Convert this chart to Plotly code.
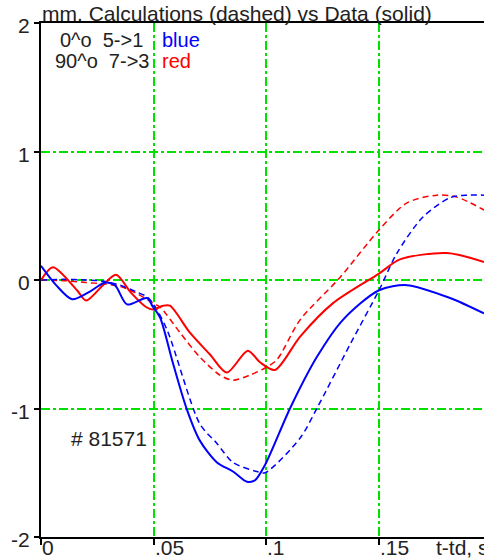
import plotly.graph_objects as go

# ---- data ----
blue_data_t = [0.0, 0.0067, 0.0138, 0.0217, 0.0284, 0.0328, 0.0382, 0.0470, 0.0497, 0.0528,
               0.0586, 0.0648, 0.0705, 0.0781, 0.0852, 0.0914, 0.0949, 0.0994, 0.1105, 0.1224,
               0.1340, 0.1500, 0.1624, 0.1815, 0.1966]
blue_data_y = [0.11, -0.04, -0.15, -0.09, -0.02, -0.04, -0.19, -0.14, -0.21, -0.29,
               -0.65, -1.01, -1.25, -1.42, -1.49, -1.57, -1.56, -1.44, -1.00, -0.60,
               -0.31, -0.08, -0.04, -0.14, -0.26]

blue_calc_t = [0.0, 0.010, 0.020, 0.028, 0.035, 0.042, 0.047, 0.050, 0.056, 0.0705,
               0.078, 0.0852, 0.0958, 0.0994, 0.115, 0.1224, 0.1375, 0.150, 0.158, 0.1695,
               0.1815, 0.189, 0.1966]
blue_calc_y = [0.0, 0.005, 0.0, -0.01, -0.04, -0.09, -0.13, -0.19, -0.39, -1.12,
               -1.27, -1.42, -1.49, -1.50, -1.23, -1.00, -0.49, -0.08, 0.21, 0.49,
               0.64, 0.66, 0.66]

red_data_t = [0.0, 0.0053, 0.0160, 0.0200, 0.0275, 0.0333, 0.0400, 0.0466, 0.0497, 0.0542,
              0.0572, 0.0661, 0.0750, 0.0825, 0.0918, 0.0972, 0.1038, 0.1150, 0.1296, 0.1500,
              0.1593, 0.1801, 0.1966]
red_data_y = [0.0, 0.10, -0.08, -0.16, -0.04, 0.04, -0.10, -0.21, -0.23, -0.20,
              -0.20, -0.41, -0.58, -0.72, -0.55, -0.64, -0.70, -0.44, -0.18, 0.05,
              0.16, 0.21, 0.14]

red_calc_t = [0.0, 0.010, 0.020, 0.028, 0.035, 0.042, 0.0497, 0.0528, 0.0617, 0.0705,
              0.0794, 0.0852, 0.0927, 0.0994, 0.1047, 0.1150, 0.1327, 0.1500, 0.1624, 0.1757,
              0.1846, 0.1966]
red_calc_y = [0.0, -0.005, -0.02, -0.03, -0.05, -0.10, -0.18, -0.21, -0.41, -0.60,
              -0.74, -0.78, -0.74, -0.685, -0.62, -0.31, 0.02, 0.39, 0.60, 0.66,
              0.645, 0.545]

x_ticks = [0.0, 0.05, 0.1, 0.15]
x_tick_labels = ["0", ".05", ".1", ".15"]
y_ticks = [-2, -1, 0, 1, 2]
y_tick_labels = ["-2", "-1", "0", "1", "2"]

FONT = "Liberation Sans, Arial, sans-serif"
FS = 21
LFS = 20
BLUE = "#0000ff"
RED = "#ff0000"
GREEN = "rgb(0,225,0)"

fig = go.Figure()
fig.add_trace(go.Scatter(x=red_calc_t, y=red_calc_y, mode="lines",
                         line=dict(color=RED, width=1.5, dash="6px,4px", shape="spline", smoothing=0.8)))
fig.add_trace(go.Scatter(x=blue_calc_t, y=blue_calc_y, mode="lines",
                         line=dict(color=BLUE, width=1.5, dash="6px,4px", shape="spline", smoothing=0.8)))
fig.add_trace(go.Scatter(x=red_data_t, y=red_data_y, mode="lines",
                         line=dict(color=RED, width=2, shape="spline", smoothing=0.8)))
fig.add_trace(go.Scatter(x=blue_data_t, y=blue_data_y, mode="lines",
                         line=dict(color=BLUE, width=2, shape="spline", smoothing=0.8)))

annotations = []
for v, t in zip(x_ticks, x_tick_labels):
    annotations.append(dict(x=v, y=0, xref="x", yref="paper", text=t, showarrow=False,
                            xanchor="left", yanchor="top", xshift=-1, yshift=3,
                            font=dict(family=FONT, size=FS, color="#222")))
annotations += [
    dict(x=0.1745, y=0, xref="x", yref="paper", text="t-td, s", showarrow=False,
         xanchor="left", yanchor="top", yshift=3, font=dict(family=FONT, size=FS, color="#222")),
    dict(x=0, y=1, xref="paper", yref="paper", text="mm. Calculations (dashed) vs Data (solid)",
         showarrow=False, xanchor="left", yanchor="bottom", xshift=-1, yshift=-4,
         font=dict(family=FONT, size=FS, color="#222")),
    dict(x=0.0462, y=1.0, xref="x", yref="paper", text="0^o  5->1", showarrow=False,
         xanchor="right", yanchor="middle", yshift=-17, font=dict(family=FONT, size=LFS, color="#222")),
    dict(x=0.0490, y=1.0, xref="x", yref="paper", text="90^o  7->3", showarrow=False,
         xanchor="right", yanchor="middle", yshift=-38, font=dict(family=FONT, size=LFS, color="#222")),
    dict(x=0.0530, y=1.0, xref="x", yref="paper", text="blue", showarrow=False,
         xanchor="left", yanchor="middle", yshift=-17, font=dict(family=FONT, size=LFS, color=BLUE)),
    dict(x=0.0530, y=1.0, xref="x", yref="paper", text="red", showarrow=False,
         xanchor="left", yanchor="middle", yshift=-38, font=dict(family=FONT, size=LFS, color=RED)),
    dict(x=0.0125, y=-1.23, xref="x", yref="y", text="# 81571", showarrow=False,
         xanchor="left", yanchor="middle", font=dict(family=FONT, size=FS, color="#222")),
]

fig.update_layout(
    width=484, height=559,
    margin=dict(l=41, r=0, t=23, b=22, autoexpand=False),
    paper_bgcolor="white", plot_bgcolor="white",
    showlegend=False,
    annotations=annotations,
    xaxis=dict(range=[0, 0.1966], tickvals=x_ticks, showticklabels=False,
               ticks="outside", ticklen=6, tickwidth=1.5, tickcolor="black",
               showline=True, linecolor="black", linewidth=2, mirror=True,
               showgrid=True, gridcolor=GREEN, griddash="dashdot", gridwidth=1.5,
               zeroline=False, automargin=False),
    yaxis=dict(range=[-2, 2], tickvals=y_ticks, ticktext=y_tick_labels,
               ticks="outside", ticklen=5, tickwidth=1.5, tickcolor="black",
               tickfont=dict(family=FONT, size=FS, color="#222"), ticklabelshift=3,
               showline=True, linecolor="black", linewidth=2,
               showgrid=True, gridcolor=GREEN, griddash="dashdot", gridwidth=1.5,
               zeroline=False, automargin=False),
)

fig.write_html("out.html", config={"displayModeBar": False},
               post_script="document.body.style.margin='0';")
